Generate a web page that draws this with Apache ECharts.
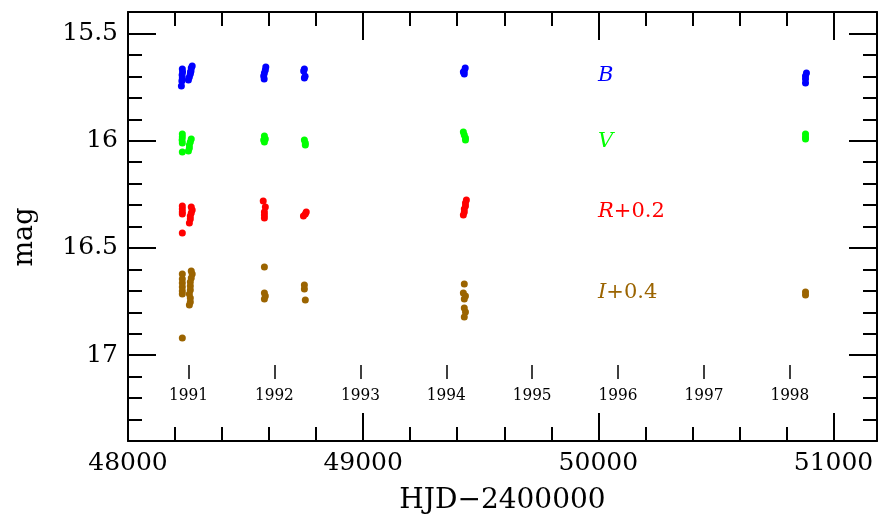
<!DOCTYPE html>
<html>
<head>
<meta charset="utf-8">
<script src="https://cdn.jsdelivr.net/npm/echarts@6/dist/echarts.min.js"></script>
<style>html,body{margin:0;padding:0;background:#fff}#c{width:878px;height:516px}</style>
</head>
<body>
<div id="c"></div>
<script>
// ---- data (HJD-2400000, magnitude as plotted) ----
const bHJD = [48231,48232,48230,48231,48229,48227, 48273,48269,48268,48265,48261,48257,48266, 48586,48584,48580,48577,48579, 48750,48747,48753,48750, 49434,49430,49430,49426, 50885,50881,50881,50881];
const bMag = [15.666,15.680,15.694,15.708,15.722,15.745, 15.652,15.661,15.675,15.689,15.703,15.717,15.680, 15.656,15.670,15.684,15.698,15.712, 15.666,15.675,15.699,15.708, 15.661,15.675,15.689,15.680, 15.684,15.698,15.712,15.731];

const vHJD = [48231,48231,48230,48231,48231, 48269,48265,48261,48261,48257, 48580,48584,48580,48577, 48750,48754,48754, 49426,49430,49435,49435, 50881,50881,50881];
const vMag = [15.969,15.983,15.997,16.011,16.053, 15.992,16.006,16.020,16.034,16.048, 15.978,15.992,16.006,15.997, 15.997,16.011,16.020, 15.959,15.973,15.987,15.997, 15.969,15.983,15.992];

const rHJD = [48231,48231,48231,48231,48231, 48269,48273,48269,48265,48265,48261, 48575,48584,48580,48580,48580, 48758,48754,48746, 49439,49435,49435,49430,49430,49426];
const rMag = [16.304,16.318,16.332,16.342,16.430, 16.309,16.323,16.337,16.351,16.365,16.384, 16.281,16.309,16.332,16.346,16.360, 16.332,16.342,16.351, 16.276,16.290,16.304,16.318,16.332,16.346];

const iHJD = [48231,48231,48231,48231,48231,48231,48231, 48269,48273,48269,48265,48265,48265,48261,48265,48265,48261, 48580,48580,48584,48580, 48750,48750,48754, 49430,49426,49435,49430,49430,49435,49430, 50881,50881];
const iMag = [16.621,16.645,16.663,16.682,16.701,16.715,16.920, 16.607,16.621,16.640,16.659,16.677,16.696,16.715,16.733,16.752,16.766, 16.589,16.710,16.724,16.738, 16.673,16.691,16.743, 16.668,16.710,16.724,16.738,16.780,16.799,16.822, 16.705,16.719];

// ---- axes / ticks ----
const xMin = 48000, xMax = 51185;
const xMajor = [48000, 49000, 50000, 51000];
const xMinor = [];
for (let v = 48200; v < xMax; v += 200) if (v % 1000 !== 0) xMinor.push(v);
const yMin = 15.4, yMax = 17.4;
const yMajor = [15.5, 16, 16.5, 17];
const yMinor = [15.6, 15.7, 15.8, 15.9, 16.1, 16.2, 16.3, 16.4, 16.6, 16.7, 16.8, 16.9, 17.1, 17.2, 17.3];
const yearLabels = ['1991','1992','1993','1994','1995','1996','1997','1998'];
const yearHJD = [48257.5, 48622.5, 48988.5, 49353.5, 49718.5, 50083.5, 50449.5, 50814.5];

const serif = "'DejaVu Serif', serif";
const K = '#000';
const colB = '#0000ff', colV = '#00ff00', colR = '#ff0000', colI = '#9b6400';

function zip(a, b) { return a.map((v, i) => [v, b[i]]); }

function xAx(pos, values, len, opts) {
  return Object.assign({
    type: 'value', position: pos, min: xMin, max: xMax,
    axisLine: { show: false, lineStyle: { color: K, width: 2 } },
    axisTick: { show: true, inside: true, length: len, customValues: values, lineStyle: { color: K, width: 2 } },
    axisLabel: { show: false },
    splitLine: { show: false }
  }, opts || {});
}
function yAx(pos, values, len, opts) {
  return Object.assign({
    type: 'value', position: pos, min: yMin, max: yMax, inverse: true,
    axisLine: { show: false, lineStyle: { color: K, width: 2 } },
    axisTick: { show: true, inside: true, length: len, customValues: values, lineStyle: { color: K, width: 2 } },
    axisLabel: { show: false },
    splitLine: { show: false }
  }, opts || {});
}

const chart = echarts.init(document.getElementById('c'), null, { renderer: 'canvas' });
chart.setOption({
  animation: false,
  backgroundColor: '#fff',
  grid: { left: 128, right: 1, top: 12, bottom: 75, containLabel: false, outerBoundsMode: 'none' },
  xAxis: [
    xAx('bottom', xMajor, 28, {
      axisLine: { show: true, onZero: false, lineStyle: { color: K, width: 2 } },
      axisLabel: { show: true, customValues: xMajor, color: K, fontFamily: serif, fontSize: 25, margin: 10,
        formatter: v => String(v) },
      name: 'HJD\u22122400000', nameLocation: 'middle', nameGap: 46,
      nameTextStyle: { color: K, fontFamily: serif, fontSize: 28 }
    }),
    xAx('bottom', xMinor, 14),
    xAx('top', xMajor, 28, { axisLine: { show: true, onZero: false, lineStyle: { color: K, width: 2 } } }),
    xAx('top', xMinor, 14),
    xAx('bottom', yearHJD, 14, {
      offset: -62,
      axisTick: { show: true, inside: true, length: 14, customValues: yearHJD, lineStyle: { color: K, width: 1.5 } },
      axisLabel: { show: true, customValues: yearHJD, color: K, margin: 8,
        fontFamily: "'DejaVu Serif Condensed', 'DejaVu Serif', serif", fontSize: 17,
        formatter: v => { const i = yearHJD.indexOf(v); return i >= 0 ? yearLabels[i] : ''; } }
    })
  ],
  yAxis: [
    yAx('left', yMajor, 28, {
      axisLine: { show: true, onZero: false, lineStyle: { color: K, width: 2 } },
      axisLabel: { show: true, customValues: yMajor, color: K, fontFamily: serif, fontSize: 25, margin: 10,
        formatter: v => String(v) }
    }),
    yAx('left', yMinor, 14),
    yAx('right', yMajor, 28, { axisLine: { show: true, onZero: false, lineStyle: { color: K, width: 2 } } }),
    yAx('right', yMinor, 14)
  ],
  series: [
    { name: 'B', type: 'scatter', data: zip(bHJD, bMag), symbolSize: 7, itemStyle: { color: colB, opacity: 1 } },
    { name: 'V', type: 'scatter', data: zip(vHJD, vMag), symbolSize: 7, itemStyle: { color: colV, opacity: 1 } },
    { name: 'R+0.2', type: 'scatter', data: zip(rHJD, rMag), symbolSize: 7, itemStyle: { color: colR, opacity: 1 } },
    { name: 'I+0.4', type: 'scatter', data: zip(iHJD, iMag), symbolSize: 7, itemStyle: { color: colI, opacity: 1 } }
  ],
  graphic: [
    { type: 'text', x: 25, y: 237, rotation: Math.PI / 2,
      style: { text: 'mag', fill: K, font: '27px ' + serif, align: 'center', verticalAlign: 'middle' } },
    { type: 'text', x: 598, y: 76, style: { text: 'B', fill: colB, font: 'italic 21px ' + serif, verticalAlign: 'middle' } },
    { type: 'text', x: 598, y: 142, style: { text: 'V', fill: colV, font: 'italic 21px ' + serif, verticalAlign: 'middle' } },
    { type: 'text', x: 598, y: 212, style: { text: '{i|R}+0.2', fill: colR, font: '21px ' + serif, verticalAlign: 'middle',
      rich: { i: { fontStyle: 'italic', fontFamily: serif, fontSize: 21, fill: colR } } } },
    { type: 'text', x: 598, y: 293, style: { text: '{i|I}+0.4', fill: colI, font: '21px ' + serif, verticalAlign: 'middle',
      rich: { i: { fontStyle: 'italic', fontFamily: serif, fontSize: 21, fill: colI } } } }
  ]
});
</script>
</body>
</html>
